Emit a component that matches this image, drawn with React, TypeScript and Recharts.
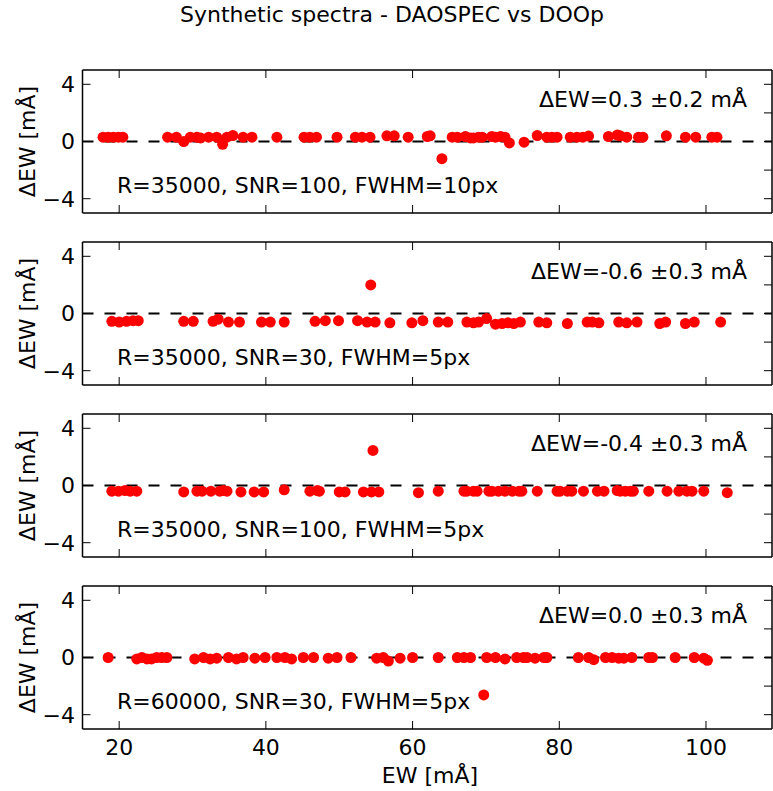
import React from 'react';
import { ScatterChart, Scatter, XAxis, YAxis, ReferenceLine } from 'recharts';

// EW [mÅ] and ΔEW [mÅ] per panel
const ew1 = [17.8, 18.5, 19.2, 19.9, 20.5, 26.6, 27.8, 28.8, 29.7, 30.6, 31.1, 32.2, 33.3, 34.1, 34.7, 35.5, 36.9, 38.1, 41.5, 45.2, 46.0, 46.9, 49.7, 52.2, 53.1, 54.2, 56.5, 57.5, 59.4, 62.0, 62.4, 64.0, 65.4, 66.1, 67.2, 67.9, 68.3, 69.0, 69.5, 70.8, 71.3, 72.0, 72.6, 73.2, 75.2, 77.0, 78.3, 79.0, 79.7, 81.5, 82.4, 83.2, 84.0, 86.7, 87.9, 88.3, 89.2, 90.8, 91.4, 94.6, 97.2, 98.6, 100.8, 101.5];
const dew1 = [0.3, 0.3, 0.3, 0.3, 0.3, 0.3, 0.3, 0.0, 0.3, 0.3, 0.25, 0.3, 0.3, -0.2, 0.3, 0.42, 0.3, 0.3, 0.3, 0.3, 0.3, 0.3, 0.3, 0.3, 0.3, 0.3, 0.4, 0.4, 0.3, 0.35, 0.4, -1.2, 0.3, 0.3, 0.35, 0.25, 0.25, 0.3, 0.3, 0.35, 0.3, 0.35, 0.3, -0.1, -0.05, 0.42, 0.3, 0.3, 0.3, 0.3, 0.3, 0.3, 0.38, 0.35, 0.45, 0.4, 0.3, 0.3, 0.3, 0.4, 0.3, 0.3, 0.3, 0.3];

const ew2 = [19.0, 20.0, 21.0, 21.9, 22.6, 28.8, 30.1, 32.8, 33.5, 34.9, 36.4, 39.4, 40.6, 42.5, 46.7, 48.1, 49.9, 52.5, 53.8, 54.3, 54.9, 56.9, 59.9, 61.4, 63.5, 64.8, 67.4, 68.3, 69.0, 70.1, 71.3, 72.2, 73.0, 73.8, 74.7, 77.2, 78.3, 81.1, 83.8, 84.5, 85.4, 88.1, 89.2, 90.6, 93.7, 94.5, 97.2, 98.4, 102.0];
const dew2 = [-0.55, -0.6, -0.55, -0.5, -0.5, -0.55, -0.55, -0.55, -0.4, -0.6, -0.6, -0.6, -0.6, -0.6, -0.55, -0.5, -0.5, -0.5, -0.6, 2.0, -0.6, -0.65, -0.65, -0.5, -0.6, -0.6, -0.6, -0.65, -0.6, -0.35, -0.75, -0.7, -0.65, -0.7, -0.6, -0.6, -0.65, -0.7, -0.6, -0.6, -0.65, -0.6, -0.65, -0.6, -0.7, -0.6, -0.7, -0.6, -0.6];

const ew3 = [19.0, 19.9, 20.8, 21.5, 22.4, 28.8, 30.6, 31.3, 32.5, 33.7, 34.2, 34.7, 36.6, 38.4, 39.7, 42.5, 46.0, 47.0, 47.3, 50.0, 50.8, 53.3, 54.4, 54.6, 55.4, 60.8, 63.5, 67.0, 67.4, 68.3, 68.8, 70.4, 70.8, 71.7, 72.6, 73.6, 74.5, 74.9, 77.0, 79.7, 80.1, 81.1, 81.7, 83.3, 85.2, 86.1, 87.9, 88.3, 89.0, 89.7, 90.1, 92.2, 94.7, 96.3, 97.4, 98.1, 99.7, 102.9];
const dew3 = [-0.4, -0.4, -0.35, -0.4, -0.4, -0.45, -0.4, -0.4, -0.4, -0.4, -0.35, -0.4, -0.45, -0.45, -0.45, -0.3, -0.4, -0.35, -0.4, -0.45, -0.45, -0.45, -0.45, 2.45, -0.45, -0.5, -0.4, -0.4, -0.4, -0.4, -0.4, -0.4, -0.4, -0.4, -0.4, -0.4, -0.4, -0.4, -0.4, -0.4, -0.4, -0.4, -0.4, -0.4, -0.4, -0.4, -0.35, -0.4, -0.4, -0.4, -0.4, -0.4, -0.4, -0.4, -0.4, -0.4, -0.4, -0.5];

const ew4 = [18.5, 22.4, 23.1, 23.8, 24.4, 25.1, 25.8, 26.5, 30.3, 31.5, 32.4, 33.3, 34.9, 36.0, 36.9, 38.5, 39.9, 41.5, 42.6, 43.5, 45.1, 46.5, 48.5, 49.7, 51.6, 55.1, 56.0, 56.7, 58.3, 60.0, 63.5, 66.1, 67.0, 67.9, 69.7, 70.1, 71.3, 72.6, 74.2, 75.1, 75.6, 76.7, 77.9, 78.3, 82.6, 84.0, 84.7, 86.3, 87.2, 88.1, 88.8, 89.9, 92.2, 92.7, 95.8, 98.4, 99.7, 100.2];
const dew4 = [0.0, -0.1, 0.0, -0.1, -0.1, 0.0, 0.0, 0.0, -0.1, 0.0, -0.1, -0.05, 0.0, -0.1, 0.0, -0.05, 0.0, 0.0, 0.0, -0.1, 0.0, 0.0, -0.05, 0.0, 0.0, -0.05, 0.0, -0.25, -0.05, 0.0, 0.0, 0.0, 0.0, 0.0, -2.62, 0.0, 0.0, -0.1, 0.0, 0.0, 0.0, -0.05, 0.0, 0.0, 0.0, 0.0, -0.15, 0.0, 0.0, -0.05, -0.05, 0.0, 0.0, 0.0, 0.0, 0.0, -0.05, -0.2];

const setupLabels = [
  'R=35000, SNR=100, FWHM=10px',
  'R=35000, SNR=30, FWHM=5px',
  'R=35000, SNR=100, FWHM=5px',
  'R=60000, SNR=30, FWHM=5px',
];
const meanLabels = [
  'ΔEW=0.3 ±0.2 mÅ',
  'ΔEW=-0.6 ±0.3 mÅ',
  'ΔEW=-0.4 ±0.3 mÅ',
  'ΔEW=0.0 ±0.3 mÅ',
];
const xTicks = [20, 40, 60, 80, 100];
const yTicks = [-4, -2, 0, 2, 4];

const FONT = '"DejaVu Sans", sans-serif';
const PANEL_TOPS = [70, 242, 414, 586];
const PANEL_H = 143;

const toRows = (xs: number[], ys: number[]) => xs.map((x, i) => ({ ew: x, dew: ys[i] }));
const panels = [toRows(ew1, dew1), toRows(ew2, dew2), toRows(ew3, dew3), toRows(ew4, dew4)];

const minus = (v: number) => String(v).replace('-', '\u2212');
const blank = () => '';

const Dot = (props: any) => <circle cx={props.cx} cy={props.cy} r={5.5} fill="#ff0000" />;

const Panel = ({ data, last }: { data: any[]; last: boolean }) => {
  const bottomH = last ? 60 : 10;
  const axisStyle = { stroke: '#000', strokeWidth: 1.5 };
  const tickLine = { stroke: '#000', strokeWidth: 1 };
  return (
    <ScatterChart width={773} height={10 + PANEL_H + bottomH} margin={{ top: 0, right: 0, bottom: 0, left: 22.5 }}>
      <XAxis
        xAxisId="b"
        dataKey="ew"
        type="number"
        domain={[15, 109]}
        allowDataOverflow
        ticks={xTicks}
        height={bottomH}
        tickSize={-8}
        tickMargin={18}
        axisLine={axisStyle}
        tickLine={tickLine}
        tick={{ fill: '#000', fontSize: 22, fontFamily: FONT }}
        tickFormatter={last ? minus : blank}
      />
      <XAxis
        xAxisId="t"
        orientation="top"
        dataKey="ew"
        type="number"
        domain={[15, 109]}
        allowDataOverflow
        ticks={xTicks}
        height={10}
        tickSize={-8}
        axisLine={axisStyle}
        tickLine={tickLine}
        tickFormatter={blank}
      />
      <YAxis
        yAxisId="l"
        dataKey="dew"
        type="number"
        domain={[-5, 5]}
        allowDataOverflow
        ticks={yTicks}
        width={60}
        tickSize={-8}
        tickMargin={15.5}
        axisLine={axisStyle}
        tickLine={tickLine}
        tick={{ fill: '#000', fontSize: 22, fontFamily: FONT }}
        tickFormatter={minus}
      />
      <YAxis
        yAxisId="r"
        orientation="right"
        dataKey="dew"
        type="number"
        domain={[-5, 5]}
        allowDataOverflow
        ticks={yTicks}
        width={1}
        tickSize={-8}
        axisLine={axisStyle}
        tickLine={tickLine}
        tickFormatter={blank}
      />
      <ReferenceLine xAxisId="b" yAxisId="l" y={0} stroke="#000" strokeWidth={1.8} strokeDasharray="11 11" />
      <Scatter xAxisId="t" yAxisId="r" data={data} shape={() => <g />} isAnimationActive={false} />
      <Scatter xAxisId="b" yAxisId="l" data={data} shape={Dot} isAnimationActive={false} />
    </ScatterChart>
  );
};

export default function App() {
  return (
    <div style={{ position: 'absolute', left: 0, top: 0, width: 773, height: 791, background: '#fff', overflow: 'hidden' }}>
      {panels.map((d, i) => (
        <div key={i} style={{ position: 'absolute', left: 0, top: PANEL_TOPS[i] - 10 }}>
          <Panel data={d} last={i === panels.length - 1} />
        </div>
      ))}
      <svg width={773} height={791} style={{ position: 'absolute', left: 0, top: 0, pointerEvents: 'none' }} fontFamily={FONT} fontSize={22} fill="#000">
        <text x={392} y={22} textAnchor="middle">Synthetic spectra - DAOSPEC vs DOOp</text>
        {PANEL_TOPS.map((t, i) => (
          <g key={i}>
            <text transform={`translate(35, ${t + PANEL_H / 2}) rotate(-90)`} textAnchor="middle">ΔEW [mÅ]</text>
            <text x={747} y={t + 36.7} textAnchor="end">{meanLabels[i]}</text>
            <text x={117} y={t + 122.7}>{setupLabels[i]}</text>
          </g>
        ))}
        <text x={430} y={783} textAnchor="middle">EW [mÅ]</text>
      </svg>
    </div>
  );
}
